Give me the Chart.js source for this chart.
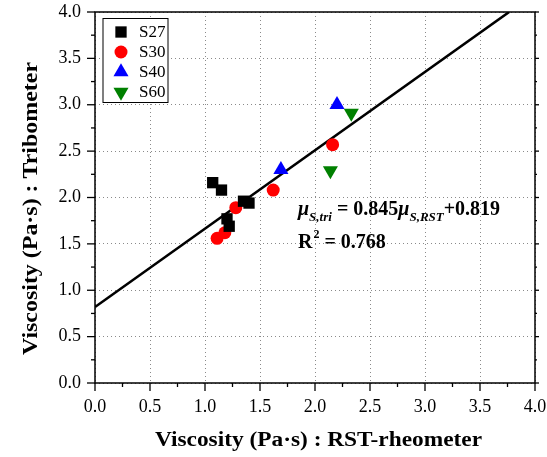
<!DOCTYPE html>
<html><head><meta charset="utf-8">
<script src="https://cdn.jsdelivr.net/npm/chart.js@4"></script>
<style>html,body{margin:0;padding:0;background:#fff}#wrap{width:547px;height:457px}</style>
</head><body><div id="wrap"><canvas id="c" width="547" height="457"></canvas></div>
<script>
const seriesNames = ['S27', 'S30', 'S40', 'S60'];
const s27X = [1.07, 1.15, 1.35, 1.40, 1.20, 1.22];
const s27Y = [2.16, 2.08, 1.96, 1.94, 1.77, 1.69];
const s30X = [1.11, 1.18, 1.28, 1.62, 2.16];
const s30Y = [1.56, 1.62, 1.89, 2.08, 2.57];
const s40X = [1.69, 2.20];
const s40Y = [2.30, 3.00];
const s60X = [2.33, 2.14];
const s60Y = [2.91, 2.29];
const fitX = [0, 3.765];
const fitY = [0.819, 4.0];
const xTitle = 'Viscosity (Pa·s) : RST-rheometer';
const yTitle = 'Viscosity (Pa·s) : Tribometer';

const FONT = "'Liberation Serif','Times New Roman',serif";
const pts = (xs, ys) => xs.map((x, i) => ({x: x, y: ys[i]}));
const isMajor = v => Math.abs(v * 2 - Math.round(v * 2)) < 1e-6;

const styles = [
  {pointStyle: 'rect', radius: 8, color: '#000000', rotation: 0},
  {pointStyle: 'circle', radius: 6.5, color: '#ff0000', rotation: 0},
  {pointStyle: 'triangle', radius: 8.7, color: '#0000ff', rotation: 0},
  {pointStyle: 'triangle', radius: 8.7, color: '#008000', rotation: 180}
];
const seriesData = [pts(s27X, s27Y), pts(s30X, s30Y), pts(s40X, s40Y), pts(s60X, s60Y)];

const datasets = seriesNames.map((n, i) => ({
  type: 'scatter', label: n, data: seriesData[i],
  pointStyle: styles[i].pointStyle, pointRadius: styles[i].radius,
  pointRotation: styles[i].rotation,
  backgroundColor: styles[i].color, borderColor: styles[i].color, borderWidth: 0,
  pointBorderWidth: 0, order: 1
}));
datasets.push({
  type: 'line', label: 'fit', data: pts(fitX, fitY), borderColor: '#000', borderWidth: 2.6,
  pointRadius: 0, fill: false, order: 10, clip: 0
});

function drawMarker(ctx, st, x, y) {
  ctx.save();
  ctx.fillStyle = st.color;
  ctx.beginPath();
  const r = st.radius;
  if (st.pointStyle === 'rect') {
    const s = Math.SQRT1_2 * r;
    ctx.rect(x - s, y - s, 2 * s, 2 * s);
  } else if (st.pointStyle === 'circle') {
    ctx.arc(x, y, r, 0, Math.PI * 2);
  } else {
    const d = st.rotation ? -1 : 1;
    ctx.moveTo(x, y - d * r);
    ctx.lineTo(x + 0.866 * r, y + d * 0.5 * r);
    ctx.lineTo(x - 0.866 * r, y + d * 0.5 * r);
    ctx.closePath();
  }
  ctx.fill();
  ctx.restore();
}

function stretchedText(ctx, txt, cx, cy, targetW) {
  const w = ctx.measureText(txt).width;
  ctx.save();
  ctx.translate(cx, cy);
  ctx.scale(targetW / w, 1);
  ctx.textAlign = 'center';
  ctx.fillText(txt, 0, 0);
  ctx.restore();
}

const decor = {
  id: 'decor',
  afterDatasetsDraw(chart) {
    const ctx = chart.ctx, a = chart.chartArea;
    const xs = chart.scales.x, ys = chart.scales.y;
    ctx.save();
    // frame
    ctx.strokeStyle = '#000'; ctx.lineWidth = 1.5;
    ctx.strokeRect(a.left, a.top, a.right - a.left, a.bottom - a.top);
    // ticks
    ctx.lineWidth = 1.3;
    xs.ticks.forEach(t => {
      const px = xs.getPixelForValue(t.value); const L = isMajor(t.value) ? 8 : 4;
      ctx.beginPath(); ctx.moveTo(px, a.bottom); ctx.lineTo(px, a.bottom + L); ctx.stroke();
    });
    ys.ticks.forEach(t => {
      const py = ys.getPixelForValue(t.value); const L = isMajor(t.value) ? 8 : 4;
      ctx.beginPath(); ctx.moveTo(a.left, py); ctx.lineTo(a.left - L, py); ctx.stroke();
      ctx.beginPath(); ctx.moveTo(a.right, py); ctx.lineTo(a.right + L * 0.5, py); ctx.stroke();
    });
    // legend
    const lx = 103, ly = 18.5, lw = 65, lh = 84;
    ctx.fillStyle = '#fff'; ctx.fillRect(lx, ly, lw, lh);
    ctx.lineWidth = 1; ctx.strokeStyle = '#000';
    ctx.strokeRect(lx, ly, lw, lh);
    ctx.font = '17px ' + FONT; ctx.fillStyle = '#000'; ctx.textBaseline = 'middle'; ctx.textAlign = 'left';
    const rowY = [32, 52, 72, 92];
    seriesNames.forEach((n, i) => {
      drawMarker(ctx, styles[i], 121, rowY[i]);
      ctx.fillStyle = '#000';
      ctx.fillText(n, 139, rowY[i] + 1);
    });
    // axis titles
    ctx.font = 'bold 20px ' + FONT; ctx.textBaseline = 'alphabetic';
    stretchedText(ctx, xTitle, 318.5, 446, 327);
    ctx.save();
    ctx.translate(37, 208.5); ctx.rotate(-Math.PI / 2);
    stretchedText(ctx, yTitle, 0, 0, 293);
    ctx.restore();
    // annotation
    ctx.textAlign = 'left';
    let x = 298; const by = 215;
    const seg = (txt, font, dy) => { ctx.font = font; ctx.fillText(txt, x, by + dy); x += ctx.measureText(txt).width; };
    const main = 'bold 20px ' + FONT, mu = 'italic bold 20px ' + FONT, sub = 'italic bold 13px ' + FONT;
    seg('μ', mu, 0); seg('S,tri', sub, 6); seg(' = 0.845', main, 0); seg('μ', mu, 0); seg('S,RST', sub, 6); seg('+0.819', main, 0);
    x = 298; const by2 = 248;
    ctx.font = main; ctx.fillText('R', x, by2); x += ctx.measureText('R').width + 1;
    ctx.font = 'bold 12px ' + FONT; ctx.fillText('2', x, by2 - 10); x += ctx.measureText('2').width;
    ctx.font = main; ctx.fillText(' = 0.768', x, by2);
    ctx.restore();
  }
};

new Chart(document.getElementById('c'), {
  data: {datasets: datasets},
  options: {
    responsive: false, animation: false, devicePixelRatio: 1,
    layout: {padding: {left: 0, top: 12, right: 12, bottom: 0}},
    plugins: {legend: {display: false}, tooltip: {enabled: false}},
    scales: {
      x: {
        type: 'linear', min: 0, max: 4,
        afterFit: s => { s.height = 74; s.paddingRight = 0; s.paddingLeft = 0; },
        border: {display: false, dash: [1, 3]},
        grid: {drawTicks: false, lineWidth: 1, color: c => isMajor(c.tick.value) ? '#8a8a8a' : 'rgba(0,0,0,0)'},
        ticks: {stepSize: 0.25, autoSkip: false, maxRotation: 0, padding: 13, color: '#000',
          font: {family: FONT, size: 18},
          callback: v => isMajor(v) ? v.toFixed(1) : ''}
      },
      y: {
        type: 'linear', min: 0, max: 4,
        afterFit: s => { s.width = 95; s.paddingTop = 0; s.paddingBottom = 0; },
        border: {display: false, dash: [1, 3]},
        grid: {drawTicks: false, lineWidth: 1, color: c => isMajor(c.tick.value) ? '#8a8a8a' : 'rgba(0,0,0,0)'},
        ticks: {stepSize: 0.25, autoSkip: false, padding: 14, color: '#000',
          font: {family: FONT, size: 18},
          callback: v => isMajor(v) ? v.toFixed(1) : ''}
      }
    }
  },
  plugins: [decor]
});
</script></body></html>
